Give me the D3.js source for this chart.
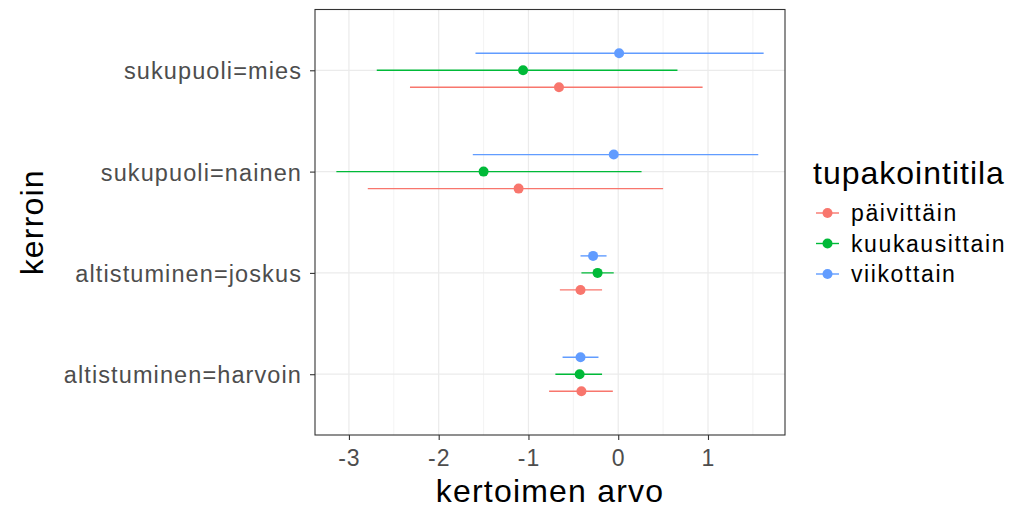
<!DOCTYPE html>
<html>
<head>
<meta charset="utf-8">
<script src="https://cdn.jsdelivr.net/npm/d3@7.9.0/dist/d3.min.js"></script>
<style>
  body { margin: 0; background: #fff; }
  svg text { font-family: "Liberation Sans", Arial, sans-serif; }
</style>
</head>
<body>
<svg id="chart" width="1014" height="508"></svg>
<script>
// data
const categories = ['sukupuoli=mies', 'sukupuoli=nainen', 'altistuminen=joskus', 'altistuminen=harvoin'];
const groups = ['päivittäin', 'kuukausittain', 'viikottain'];
const colors = ['#F8766D', '#00BA38', '#619CFF'];

const estPaivittain = [-0.66, -1.11, -0.42, -0.41];
const loPaivittain = [-2.32, -2.79, -0.65, -0.77];
const hiPaivittain = [0.94, 0.50, -0.18, -0.06];

const estKuukausittain = [-1.06, -1.50, -0.23, -0.43];
const loKuukausittain = [-2.69, -3.14, -0.41, -0.70];
const hiKuukausittain = [0.66, 0.26, -0.05, -0.18];

const estViikottain = [0.01, -0.05, -0.28, -0.42];
const loViikottain = [-1.59, -1.62, -0.42, -0.62];
const hiViikottain = [1.62, 1.56, -0.13, -0.22];

const xTicks = [-3, -2, -1, 0, 1];

const series = [
  { name: groups[0], est: estPaivittain, lo: loPaivittain, hi: hiPaivittain },
  { name: groups[1], est: estKuukausittain, lo: loKuukausittain, hi: hiKuukausittain },
  { name: groups[2], est: estViikottain, lo: loViikottain, hi: hiViikottain },
];

const rows = [];
series.forEach((s, gi) => {
  categories.forEach((c, ci) => {
    rows.push({ group: s.name, gi, cat: c, est: s.est[ci], lo: s.lo[ci], hi: s.hi[ci] });
  });
});

// panel
const panel = { left: 315, right: 785, top: 9.5, bottom: 435 };
const svg = d3.select('#chart');

const minV = d3.min(rows, d => d.lo);
const maxV = d3.max(rows, d => d.hi);
const pad = (maxV - minV) * 0.05;

const x = d3.scaleLinear()
  .domain([minV - pad, maxV + pad])
  .range([panel.left, panel.right]);

const y = d3.scalePoint()
  .domain(categories)
  .range([panel.top, panel.bottom])
  .padding(0.6);

const dodge = d3.scalePoint()
  .domain(groups)
  .range([y.step() * 0.168, -y.step() * 0.168]);

const color = d3.scaleOrdinal().domain(groups).range(colors);

// grid
const minorTicks = xTicks.map(t => t + 0.5).concat([xTicks[0] - 0.5])
  .filter(t => t > x.domain()[0] && t < x.domain()[1]);

svg.append('g').selectAll('line').data(minorTicks).join('line')
  .attr('x1', d => x(d)).attr('x2', d => x(d))
  .attr('y1', panel.top).attr('y2', panel.bottom)
  .attr('stroke', '#EBEBEB').attr('stroke-width', 0.6);

svg.append('g').selectAll('line').data(xTicks).join('line')
  .attr('x1', d => x(d)).attr('x2', d => x(d))
  .attr('y1', panel.top).attr('y2', panel.bottom)
  .attr('stroke', '#EBEBEB').attr('stroke-width', 1.2);

svg.append('g').selectAll('line').data(categories).join('line')
  .attr('x1', panel.left).attr('x2', panel.right)
  .attr('y1', d => y(d)).attr('y2', d => y(d))
  .attr('stroke', '#EBEBEB').attr('stroke-width', 1.2);

// point ranges
const marks = svg.append('g');
marks.selectAll('line').data(rows).join('line')
  .attr('x1', d => x(d.lo)).attr('x2', d => x(d.hi))
  .attr('y1', d => y(d.cat) + dodge(d.group))
  .attr('y2', d => y(d.cat) + dodge(d.group))
  .attr('stroke', d => color(d.group))
  .attr('stroke-width', 1.4);

marks.selectAll('circle').data(rows).join('circle')
  .attr('cx', d => x(d.est))
  .attr('cy', d => y(d.cat) + dodge(d.group))
  .attr('r', 5)
  .attr('fill', d => color(d.group));

// border
svg.append('rect')
  .attr('x', panel.left).attr('y', panel.top)
  .attr('width', panel.right - panel.left)
  .attr('height', panel.bottom - panel.top)
  .attr('fill', 'none').attr('stroke', '#333333').attr('stroke-width', 1.1);

// axes
const xAxis = svg.append('g')
  .attr('transform', `translate(0,${panel.bottom})`)
  .call(d3.axisBottom(x).tickValues(xTicks).tickSize(5).tickPadding(5).tickFormat(d => String(d)));
xAxis.select('.domain').remove();
xAxis.selectAll('line').attr('stroke', '#333333').attr('stroke-width', 1.1);
xAxis.selectAll('text')
  .attr('fill', '#4D4D4D').style('font-size', '23px').style('letter-spacing', '1px')
  .attr('dy', '0.93em');

const yAxis = svg.append('g')
  .attr('transform', `translate(${panel.left},0)`)
  .call(d3.axisLeft(y).tickSize(5).tickPadding(8));
yAxis.select('.domain').remove();
yAxis.selectAll('line').attr('stroke', '#333333').attr('stroke-width', 1.1);
yAxis.selectAll('text')
  .attr('fill', '#4D4D4D').style('font-size', '23.5px').style('letter-spacing', '1.1px')
  .attr('dy', '0.36em');

// titles
svg.append('text')
  .attr('x', (panel.left + panel.right) / 2).attr('y', 502)
  .attr('text-anchor', 'middle')
  .style('font-size', '32px').style('letter-spacing', '1.2px')
  .text('kertoimen arvo');

svg.append('text')
  .attr('transform', `translate(43,${(panel.top + panel.bottom) / 2}) rotate(-90)`)
  .attr('text-anchor', 'middle')
  .style('font-size', '32px').style('letter-spacing', '1.2px')
  .text('kerroin');

// legend
const legend = svg.append('g').attr('transform', 'translate(813,0)');
legend.append('text')
  .attr('x', 0).attr('y', 184)
  .style('font-size', '32px').style('letter-spacing', '1px')
  .text('tupakointitila');

const item = legend.selectAll('g.item').data(groups).join('g')
  .attr('class', 'item')
  .attr('transform', (d, i) => `translate(0,${213 + i * 30.5})`);
item.append('line')
  .attr('x1', 3).attr('x2', 26)
  .attr('stroke', d => color(d)).attr('stroke-width', 1.4);
item.append('circle')
  .attr('cx', 14.5).attr('r', 5)
  .attr('fill', d => color(d));
item.append('text')
  .attr('x', 38).attr('dy', '0.36em')
  .style('font-size', '23px').style('letter-spacing', '1.6px')
  .text(d => d);
</script>
</body>
</html>
